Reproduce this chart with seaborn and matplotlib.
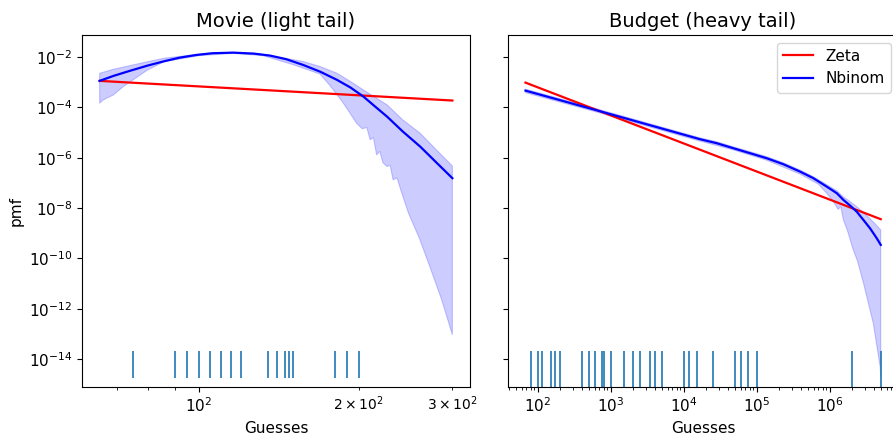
#!/usr/bin/env python3
"""Zeta vs negative-binomial fits for the Movie and Budget guess counts."""

import matplotlib

matplotlib.use("Agg")
import matplotlib.pyplot as plt
import numpy as np
import seaborn as sns
from matplotlib.ticker import NullLocator

# --- Movie (light tail) -------------------------------------------------
movie_guesses = [75, 90, 95, 100, 105, 110, 115, 120, 135, 140, 145, 148,
                 150, 180, 190, 200]

movie_zeta_x = [65, 300]
movie_zeta_pmf = [1.12e-3, 1.86e-4]

movie_nb_x = [65, 69, 74, 80, 86, 92, 99, 106, 116, 127, 136, 146, 157, 169,
              182, 193, 204, 216, 226, 242, 261, 280, 300]
movie_nb_pmf = [1.12e-3, 1.76e-3, 2.78e-3, 4.52e-3, 6.75e-3, 9.37e-3, 1.20e-2,
                1.40e-2, 1.48e-2, 1.35e-2, 1.13e-2, 8.11e-3, 4.82e-3, 2.61e-3,
                1.22e-3, 6.05e-4, 2.66e-4, 9.55e-5, 4.28e-5, 1.09e-5, 2.75e-6,
                6.39e-7, 1.54e-7]

movie_band_hi_x = [65, 69, 80, 86, 92, 99, 106, 116, 127, 136, 146, 157, 169,
                   182, 193, 204, 216, 226, 242, 261, 280, 300]
movie_band_hi = [2.24e-3, 3.24e-3, 6.46e-3, 8.91e-3, 1.05e-2, 1.26e-2, 1.45e-2,
                 1.51e-2, 1.38e-2, 1.17e-2, 8.71e-3, 6.61e-3, 4.17e-3, 2.24e-3,
                 1.05e-3, 4.90e-4, 2.29e-4, 1.26e-4, 3.16e-5, 9.33e-6, 2.04e-6,
                 4.68e-7]

movie_band_lo_x = [65, 66, 69, 72, 80, 86, 100, 116, 132, 150, 169, 176, 182,
                   187, 192, 198, 203, 207, 210, 213, 216, 219, 222, 226, 229,
                   232, 236, 240, 248, 260, 272, 286, 300]
movie_band_lo = [1.45e-4, 1.95e-4, 3.09e-4, 6.61e-4, 3.02e-3, 6.46e-3, 1.12e-2,
                 1.38e-2, 1.12e-2, 5.01e-3, 2.09e-3, 7.76e-4, 3.16e-4, 1.45e-4,
                 6.31e-5, 2.34e-5, 1.41e-5, 1.58e-5, 5.13e-6, 6.31e-6, 1.29e-6,
                 1.78e-6, 6.31e-7, 4.47e-7, 5.01e-7, 1.32e-7, 1.58e-7, 5.01e-8,
                 6.31e-9, 6.31e-10, 4.79e-11, 2.51e-12, 9.33e-14]

# --- Budget (heavy tail) ------------------------------------------------
budget_guesses = [80, 100, 115, 150, 175, 200, 400, 500, 600, 750, 800, 1000,
                  1500, 2000, 2500, 3500, 4000, 5000, 10000, 12000, 15000,
                  25000, 50000, 60000, 75000, 100000, 2000000, 5000000]

budget_zeta_x = [68, 5e6]
budget_zeta_pmf = [9.55e-4, 3.63e-9]

budget_nb_x = [68, 610, 16720, 28300, 47800, 80900, 137000, 231000, 392000,
               596000, 909000, 1.25e6, 1.54e6, 1.9e6, 2.34e6, 2.89e6, 3.56e6,
               4.4e6, 5e6]
budget_nb_pmf = [4.60e-4, 7.94e-5, 5.42e-6, 3.76e-6, 2.38e-6, 1.51e-6, 9.55e-7,
                 5.52e-7, 2.81e-7, 1.54e-7, 7.13e-8, 3.90e-8, 2.11e-8, 1.26e-8,
                 7.26e-9, 3.40e-9, 1.59e-9, 6.39e-10, 3.47e-10]

budget_band_hi_x = budget_nb_x
budget_band_hi = [5.25e-4, 9.12e-5, 6.17e-6, 4.32e-6, 2.72e-6, 1.74e-6, 1.10e-6,
                  6.38e-7, 3.24e-7, 1.78e-7, 8.51e-8, 4.90e-8, 2.79e-8, 1.82e-8,
                  1.15e-8, 6.76e-9, 3.80e-9, 2.04e-9, 1.35e-9]

budget_band_lo_x = [68, 610, 16720, 47800, 137000, 392000, 700000, 910000,
                    1.12e6, 1.3e6, 1.42e6, 1.54e6, 1.75e6, 2.1e6, 2.4e6, 2.9e6,
                    3.95e6, 4.9e6, 5e6]
budget_band_lo = [3.80e-4, 6.76e-5, 4.57e-6, 2.04e-6, 7.94e-7, 2.24e-7, 8.91e-8,
                  3.89e-8, 1.82e-8, 8.91e-9, 1.12e-8, 3.39e-9, 1.26e-9, 2.19e-10,
                  7.94e-11, 1.05e-11, 2.69e-13, 5.13e-15, 2.04e-15]

PANELS = [
    ("Movie (light tail)", movie_guesses, movie_zeta_x, movie_zeta_pmf,
     movie_nb_x, movie_nb_pmf, movie_band_hi_x, movie_band_hi,
     movie_band_lo_x, movie_band_lo, (10 ** -13.69, 10 ** -14.74),
     (10 ** 1.7797, 10 ** 2.5103)),
    ("Budget (heavy tail)", budget_guesses, budget_zeta_x, budget_zeta_pmf,
     budget_nb_x, budget_nb_pmf, budget_band_hi_x, budget_band_hi,
     budget_band_lo_x, budget_band_lo, (10 ** -13.69, 10 ** -15.6),
     (10 ** 1.589, 10 ** 6.942)),
]


def main() -> None:
    plt.rcParams["font.family"] = ["DejaVu Sans"]
    fig = plt.figure(figsize=(8.93, 4.38), dpi=100)
    ax_left = fig.add_axes([82 / 893, 51 / 438, 388 / 893, 352 / 438])
    ax_right = fig.add_axes([507.7 / 893, 51 / 438, 390.8 / 893, 352 / 438],
                            sharey=ax_left)

    for ax, (title, guesses, zx, zy, nx, ny, hx, hy, lx, ly, rug, xlim) in zip(
        (ax_left, ax_right), PANELS
    ):
        ax.set_xscale("log")
        ax.set_yscale("log")
        ax.fill(np.r_[hx, lx[::-1]], np.r_[hy, ly[::-1]],
                color="blue", alpha=0.2, lw=0.8)
        sns.lineplot(x=zx, y=zy, color="red", lw=1.6, label="Zeta",
                     legend=False, ax=ax, sort=False)
        sns.lineplot(x=nx, y=ny, color="blue", lw=1.6, label="Nbinom",
                     legend=False, ax=ax, sort=False)
        ax.vlines(guesses, rug[1], rug[0], color="#1f77b4", lw=1.2)
        ax.set_xlim(*xlim)
        ax.set_title(title, fontsize=14)
        ax.set_xlabel("Guesses", fontsize=11)
        ax.tick_params(labelsize=11)

    ax_left.set_ylim(10 ** -15.1, 10 ** -1.13)
    ax_left.set_yticks([10.0 ** e for e in range(-14, -1, 2)])
    ax_left.yaxis.set_minor_locator(NullLocator())
    ax_left.set_ylabel("pmf", fontsize=11)
    ax_right.tick_params(axis="y", labelleft=False)
    ax_right.legend(loc="upper right", fontsize=11)

    fig.savefig("out.png", dpi=100)
    plt.close(fig)


if __name__ == "__main__":
    main()
